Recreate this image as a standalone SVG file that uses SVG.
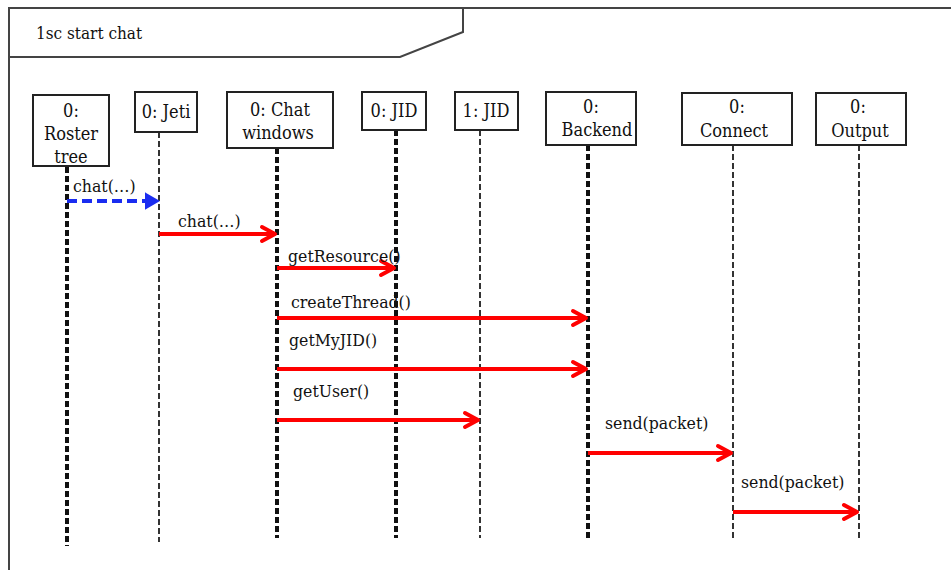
<svg xmlns="http://www.w3.org/2000/svg" width="951" height="570" viewBox="0 0 951 570">
<style>
text{font-family:'DejaVu Serif',serif;font-stretch:condensed;font-size:17.5px;fill:#111}
.lbl{text-anchor:middle;font-size:18px}
.box{fill:#fff;stroke:#222;stroke-width:2}
.frame{fill:none;stroke:#444;stroke-width:2}
.lt{stroke:#111;stroke-width:4;stroke-dasharray:6 3;fill:none}
.ln{stroke:#333;stroke-width:2;stroke-dasharray:6 3;fill:none}
.msg{stroke:#f00;stroke-width:4;fill:none}
.ah{stroke:#f00;stroke-width:4;fill:none;stroke-linecap:round;stroke-linejoin:round}
</style>
<rect width="951" height="570" fill="#fff"/>
<g id="frame">
<path class="frame" d="M9,570 V8 H951"/>
<path class="frame" d="M9,57 H400 L463,32 V8"/>
<text x="36" y="39" style="font-size:17px">1sc start chat</text>
</g>
<g id="lifelines">
<line class="lt" x1="67" y1="167" x2="67" y2="546"/>
<line class="ln" x1="159" y1="132" x2="159" y2="542"/>
<line class="lt" x1="277" y1="148" x2="277" y2="538"/>
<line class="lt" x1="396" y1="130" x2="396" y2="538"/>
<line class="ln" x1="480" y1="130" x2="480" y2="538"/>
<line class="lt" x1="588" y1="145" x2="588" y2="538"/>
<line class="ln" x1="733" y1="145" x2="733" y2="538"/>
<line class="ln" x1="859" y1="145" x2="859" y2="540"/>
</g>
<g id="n-roster"><rect class="box" x="33" y="95" width="76" height="71"/><text class="lbl" x="71" y="117">0:</text><text class="lbl" x="71" y="140">Roster</text><text class="lbl" x="71" y="163">tree</text></g>
<g id="n-jeti"><rect class="box" x="135" y="92" width="62" height="40"/><text class="lbl" x="166" y="118">0: Jeti</text></g>
<g id="n-chatwin"><rect class="box" x="227" y="92" width="106" height="56"/><text class="lbl" x="280" y="116">0: Chat</text><text class="lbl" x="278" y="139">windows</text></g>
<g id="n-jid0"><rect class="box" x="362" y="92" width="64" height="38"/><text class="lbl" x="394" y="117">0: JID</text></g>
<g id="n-jid1"><rect class="box" x="455" y="92" width="63" height="38"/><text class="lbl" x="486" y="117">1: JID</text></g>
<g id="n-backend"><rect class="box" x="546" y="92" width="90" height="53"/><text class="lbl" x="591" y="113">0:</text><text class="lbl" x="597" y="136">Backend</text></g>
<g id="n-connect"><rect class="box" x="682" y="93" width="110" height="52"/><text class="lbl" x="737" y="113">0:</text><text class="lbl" x="734" y="137">Connect</text></g>
<g id="n-output"><rect class="box" x="816" y="93" width="90" height="52"/><text class="lbl" x="858" y="113">0:</text><text class="lbl" x="860" y="137">Output</text></g>
<g id="connectors">
<line x1="67" y1="201" x2="154" y2="201" stroke="#1a2cf0" stroke-width="4" stroke-dasharray="10 5"/>
<path d="M146,194 L158,201 L146,208 Z" fill="#1a2cf0" stroke="#1a2cf0" stroke-width="2"/>
<text x="73" y="192">chat(…)</text>

<line class="msg" x1="159" y1="234" x2="274" y2="234"/>
<path class="ah" d="M262,227 L275,234 L262,241"/>
<text x="178" y="227">chat(…)</text>

<line class="msg" x1="277" y1="268" x2="393" y2="268"/>
<path class="ah" d="M381,261 L394,268 L381,275"/>
<text x="288" y="262">getResource()</text>

<line class="msg" x1="277" y1="318" x2="585" y2="318"/>
<path class="ah" d="M573,311 L586,318 L573,325"/>
<text x="291" y="308">createThread()</text>

<line class="msg" x1="277" y1="369" x2="585" y2="369"/>
<path class="ah" d="M573,362 L586,369 L573,376"/>
<text x="289" y="346">getMyJID()</text>

<line class="msg" x1="277" y1="420" x2="477" y2="420"/>
<path class="ah" d="M465,413 L478,420 L465,427"/>
<text x="293" y="397">getUser()</text>

<line class="msg" x1="588" y1="453" x2="730" y2="453"/>
<path class="ah" d="M718,446 L731,453 L718,460"/>
<text x="605" y="429">send(packet)</text>

<line class="msg" x1="733" y1="512" x2="856" y2="512"/>
<path class="ah" d="M844,505 L857,512 L844,519"/>
<text x="741" y="488">send(packet)</text>
</g>
</svg>
